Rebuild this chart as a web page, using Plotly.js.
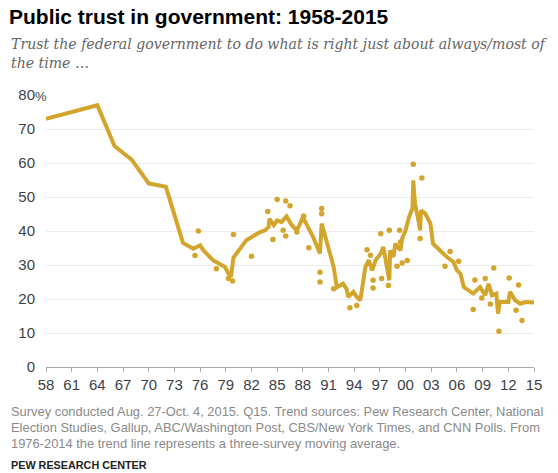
<!DOCTYPE html>
<html>
<head>
<meta charset="utf-8">
<script src="https://cdn.plot.ly/plotly-3.0.1.min.js"></script>
<style>
  html, body { margin: 0; padding: 0; background: #fff; }
  #chart { width: 558px; height: 473px; }
</style>
</head>
<body>
<div id="chart"></div>
<script>
// Trend line (moving average from 1976)
const trendYears = [1958, 1964, 1966, 1968, 1970, 1972, 1974, 1975.2, 1976, 1976.4, 1977.5, 1978.9, 1979.3, 1979.6, 1979.9, 1980.7, 1981.4, 1983, 1983.6, 1984, 1984.1, 1984.6, 1985, 1985.5, 1986.1, 1986.7, 1987.3, 1987.7, 1988, 1989.2, 1990, 1990.2, 1991, 1991.6, 1991.9, 1992, 1992.7, 1993.1, 1993.3, 1993.9, 1994.3, 1994.7, 1994.9, 1995.3, 1995.7, 1996.1, 1996.5, 1997.1, 1997.4, 1997.8, 1998.1, 1998.2, 1998.6, 1998.8, 1999.4, 1999.6, 2000, 2000.4, 2000.8, 2000.9, 2001.1, 2001.5, 2001.7, 2001.8, 2002.3, 2002.9, 2003.2, 2003.6, 2004.8, 2005.6, 2006, 2006.4, 2006.8, 2007.9, 2008.7, 2009.3, 2009.7, 2010.1, 2010.6, 2010.8, 2011, 2012, 2012.2, 2012.8, 2013.4, 2014, 2015];
const trendValues = [73, 77, 65, 61, 54, 53, 36.5, 34.8, 35.8, 34.3, 31.4, 29.4, 27.5, 26.5, 32.2, 34.8, 37.3, 39.7, 40.2, 41.2, 43.6, 41.7, 43.1, 42.6, 44.3, 41.7, 40.2, 42.2, 44.1, 38.2, 33.4, 42.2, 35.3, 29.4, 24.5, 23.5, 24.5, 23, 20.6, 22.1, 20.6, 19.6, 22.6, 29.4, 31.4, 28.4, 31.4, 33.4, 35.3, 30.4, 25.5, 34.3, 32.4, 36.3, 34.3, 37.8, 40.2, 44.1, 46.6, 54.9, 48, 43.1, 40.2, 46.1, 45.1, 42.2, 36.3, 35.3, 32.4, 30.9, 28.4, 27.5, 23.5, 21.6, 23.5, 21.1, 24.5, 21.1, 21.6, 15.7, 19.1, 19.1, 22.1, 19.6, 18.6, 19.1, 19];

// Individual survey results
const pollYears = [1975.4, 1975.8, 1977.9, 1979.3, 1979.8, 1979.9, 1982, 1983.9, 1984.5, 1985, 1985.7, 1986, 1986, 1986.5, 1987.3, 1988.1, 1988.7, 1990.2, 1990.2, 1990, 1990, 1991.6, 1993.5, 1994.3, 1995.5, 1995.9, 1996.2, 1996.2, 1997.1, 1997.2, 1998.1, 1998, 1999, 1999.3, 1999.4, 1999.6, 2000.2, 2000.9, 2001.9, 2001.7, 2004.6, 2005.2, 2006.2, 2007.9, 2008.1, 2008.9, 2009.3, 2009.9, 2010.3, 2010.9, 2012.1, 2012.9, 2013.2, 2013.6];
const pollValues = [32.8, 40, 28.9, 26, 25.3, 39, 32.6, 45.7, 37.5, 49.3, 40.2, 48.8, 38.5, 47.4, 39.7, 44.4, 35.1, 46.6, 45.1, 27.9, 25, 23, 17.4, 18.1, 34.5, 32.9, 25.5, 23.2, 39.2, 26, 40.2, 24, 29.6, 40.2, 36.8, 30.6, 31.3, 59.6, 55.6, 37.8, 29.6, 34, 31.1, 16.9, 25.6, 20.3, 26, 18.5, 29.1, 10.5, 26.2, 16.7, 24.1, 13.7];

const xTickVals = [1958, 1961, 1964, 1967, 1970, 1973, 1976, 1979, 1982, 1985, 1988, 1991, 1994, 1997, 2000, 2003, 2006, 2009, 2012, 2015];
const xTickText = ["58", "61", "64", "67", "70", "73", "76", "79", "82", "85", "88", "91", "94", "97", "00", "03", "06", "09", "12", "15"];
const yTickVals = [0, 10, 20, 30, 40, 50, 60, 70, 80];
const yTickText = ["0", "10", "20", "30", "40", "50", "60", "70", "80"];

const GOLD = "#d4a52c";
const W = 558, H = 473;
const M = {l: 46, r: 24, t: 95, b: 106};
const px = x => (x - M.l) / (W - M.l - M.r);
const py = y => (H - M.b - y) / (H - M.t - M.b);

const traces = [
  {
    x: pollYears, y: pollValues, type: "scatter", mode: "markers",
    marker: {color: GOLD, size: 5.5}, hoverinfo: "skip", cliponaxis: false
  },
  {
    x: trendYears, y: trendValues, type: "scatter", mode: "lines",
    line: {color: GOLD, width: 4}, hoverinfo: "skip"
  }
];

const footFont = {family: "Liberation Sans, Arial, sans-serif", size: 12.9, color: "#8a8a8a"};
function note(text, x, y, font, anchor) {
  return {text, xref: "paper", yref: "paper", x: px(x), y: py(y), xanchor: anchor || "left", yanchor: "middle", showarrow: false, font, align: "left"};
}

const layout = {
  width: W, height: H,
  margin: M,
  paper_bgcolor: "#fff", plot_bgcolor: "#fff",
  showlegend: false,
  title: {
    text: "<b>Public trust in government: 1958-2015</b>",
    xref: "container", yref: "container", x: 9 / W, xanchor: "left",
    y: 1 - 17 / H, yanchor: "middle",
    font: {family: "Liberation Sans, Arial, sans-serif", size: 21, color: "#000"}
  },
  xaxis: {
    range: [1958, 2015], tickvals: xTickVals, ticktext: xTickText,
    showgrid: false, zeroline: false, showline: true, linecolor: "#a8a8a8", linewidth: 1,
    ticks: "outside", ticklen: 4, tickcolor: "#a8a8a8",
    tickfont: {family: "Liberation Sans, Arial, sans-serif", size: 15, color: "#3c3f4a"},
    fixedrange: true
  },
  yaxis: {
    range: [0, 80], tickvals: yTickVals, ticktext: yTickText,
    showgrid: true, gridcolor: "#ececec", gridwidth: 1, zeroline: false, showline: false,
    ticks: "", ticklabelstandoff: 10,
    tickfont: {family: "Liberation Sans, Arial, sans-serif", size: 15, color: "#3c3f4a"},
    fixedrange: true
  },
  annotations: [
    note("%", 33, 96, {family: "Liberation Sans, Arial, sans-serif", size: 13, color: "#3c3f4a"}),
    note("<i>Trust the federal government to do what is right just about always/most of</i>", 9, 44, {family: "DejaVu Serif, serif", size: 14.1, color: "#666"}),
    note("<i>the time \u2026</i>", 9, 63, {family: "DejaVu Serif, serif", size: 14.1, color: "#666"}),
    note("Survey conducted Aug. 27-Oct. 4, 2015. Q15. Trend sources: Pew Research Center, National", 9, 411, footFont),
    note("Election Studies, Gallup, ABC/Washington Post, CBS/New York Times, and CNN Polls. From", 9, 427, footFont),
    note("1976-2014 the trend line represents a three-survey moving average.", 9, 443, footFont),
    note("<b>PEW RESEARCH CENTER</b>", 9, 465, {family: "Liberation Sans, Arial, sans-serif", size: 10.8, color: "#222"})
  ]
};

Plotly.newPlot("chart", traces, layout, {displayModeBar: false, staticPlot: true});
</script>
</body>
</html>
